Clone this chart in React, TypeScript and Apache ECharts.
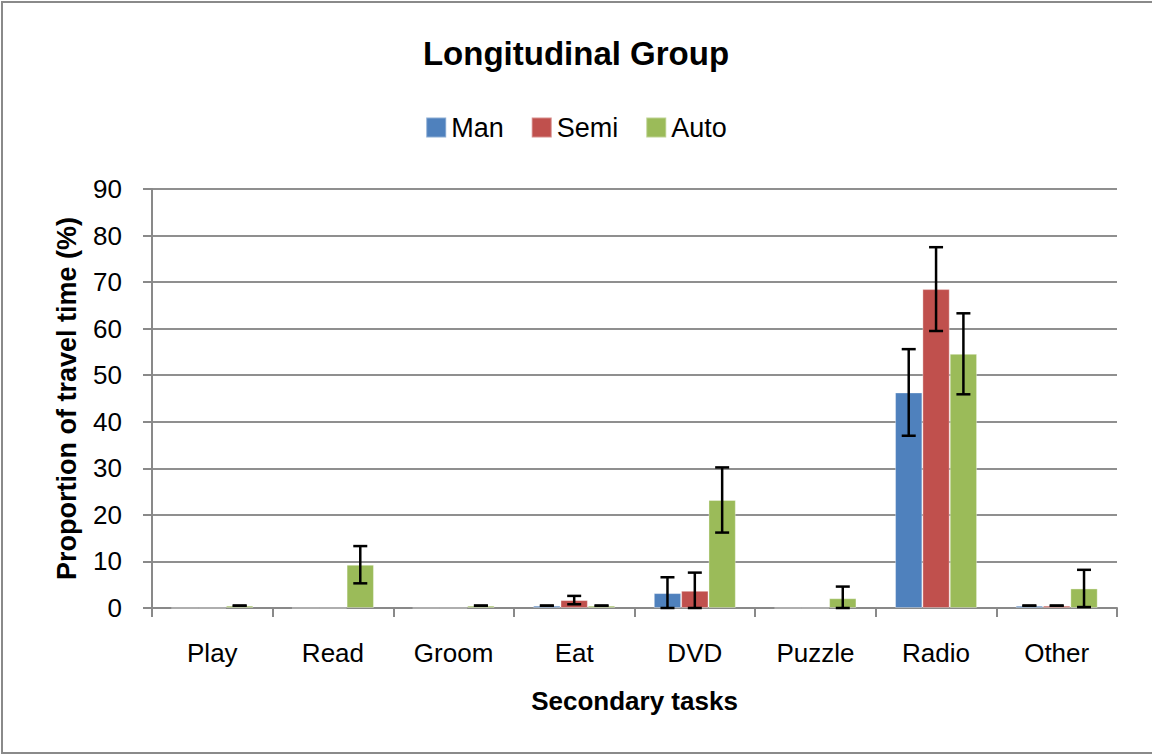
import React, { useEffect, useRef } from "react";
import * as echarts from "echarts";

const categories = ["Play", "Read", "Groom", "Eat", "DVD", "Puzzle", "Radio", "Other"];
const seriesNames = ["Man", "Semi", "Auto"];
const manValues = [0, 0, 0, 0.5, 3.2, 0, 46.3, 0.5];
const semiValues = [0, 0, 0, 1.7, 3.7, 0, 68.5, 0.5];
const autoValues = [0.5, 9.3, 0.5, 0.5, 23.2, 2.1, 54.6, 4.2];
const manErrors = [0, 0, 0, 0, 3.4, 0, 9.3, 0];
const semiErrors = [0, 0, 0, 0.9, 3.9, 0, 9.0, 0];
const autoErrors = [0, 4.0, 0, 0, 7.0, 2.5, 8.7, 4.0];
const colors = ["#4F81BD", "#C0504D", "#9BBB59"];

const FONT = "Liberation Sans";
const CAT_GAP = 0.32;

export default function App() {
  const ref = useRef<HTMLDivElement>(null);
  useEffect(() => {
    if (!ref.current) return;
    const chart = echarts.init(ref.current, null, { renderer: "svg" });
    const values = [manValues, semiValues, autoValues];
    const errors = [manErrors, semiErrors, autoErrors];
    const errData: number[][] = [];
    values.forEach((arr, s) => {
      arr.forEach((v, c) => {
        if (v > 0) errData.push([c, s, v, errors[s][c]]);
      });
    });
    const axisGray = "#898989";
    chart.setOption({
      animation: false,
      color: colors,
      textStyle: { fontFamily: FONT },
      title: {
        text: "Longitudinal Group",
        left: "center",
        top: 32,
        textStyle: { fontFamily: FONT, fontSize: 33, fontWeight: "bold", color: "#000" },
      },
      legend: {
        data: seriesNames,
        top: 109,
        left: "center",
        itemWidth: 20,
        itemHeight: 20,
        itemGap: 27,
        icon: "rect",
        textStyle: { fontFamily: FONT, fontSize: 27, color: "#000" },
      },
      grid: { left: 152, right: 35, top: 189, bottom: 148, containLabel: false },
      xAxis: {
        type: "category",
        data: categories,
        name: "Secondary tasks",
        nameLocation: "middle",
        nameGap: 80,
        nameTextStyle: { fontFamily: FONT, fontSize: 26, fontWeight: "bold", color: "#000" },
        axisLine: { show: true, lineStyle: { color: axisGray, width: 2 } },
        axisTick: { show: true, length: 9, lineStyle: { color: axisGray, width: 2 } },
        axisLabel: { fontFamily: FONT, fontSize: 26, color: "#000", margin: 32 },
      },
      yAxis: {
        type: "value",
        min: 0,
        max: 90,
        interval: 10,
        name: "Proportion of travel time (%)",
        nameLocation: "middle",
        nameGap: 72,
        nameTextStyle: { fontFamily: FONT, fontSize: 27, fontWeight: "bold", color: "#000" },
        axisLine: { show: true, lineStyle: { color: axisGray, width: 2 } },
        axisTick: { show: true, length: 9, lineStyle: { color: axisGray, width: 2 } },
        splitLine: { show: true, lineStyle: { color: "#8f8f8f", width: 2 } },
        axisLabel: { fontFamily: FONT, fontSize: 26, color: "#000", margin: 30 },
      },
      graphic: [
        {
          type: "rect",
          shape: { x: 2, y: 2, width: 1170, height: 751 },
          style: { fill: "none", stroke: "#8a8a8a", lineWidth: 2 },
          silent: true,
        },
      ],
      series: [
        ...seriesNames.map((name, i) => ({
          name,
          type: "bar",
          data: values[i],
          barGap: "0%",
          barCategoryGap: `${CAT_GAP * 100}%`,
          itemStyle: { color: colors[i], borderColor: "rgba(255,255,255,0.35)", borderWidth: 1 },
        })),
        {
          name: "err",
          type: "custom",
          z: 10,
          data: errData,
          encode: { x: 0, y: 2 },
          renderItem: (params: any, api: any) => {
            const c = api.value(0);
            const s = api.value(1);
            const v = api.value(2);
            const e = api.value(3);
            const center = api.coord([c, v]);
            const band = api.size([1, 0])[0];
            const barW = (band * (1 - CAT_GAP)) / 3;
            const x = center[0] + (s - 1) * barW;
            const top = api.coord([c, v + e])[1];
            const bot = api.coord([c, Math.max(0, v - e)])[1];
            const cap = 7;
            const style = { stroke: "#000", lineWidth: 2.5 };
            return {
              type: "group",
              children: [
                { type: "line", shape: { x1: x, y1: top, x2: x, y2: bot }, style },
                { type: "line", shape: { x1: x - cap, y1: top, x2: x + cap, y2: top }, style },
                { type: "line", shape: { x1: x - cap, y1: bot, x2: x + cap, y2: bot }, style },
              ],
            };
          },
        },
      ],
    });
    return () => chart.dispose();
  }, []);
  return (
    <div
      ref={ref}
      style={{ position: "fixed", left: 0, top: 0, width: 1152, height: 756, background: "#fff" }}
    />
  );
}
